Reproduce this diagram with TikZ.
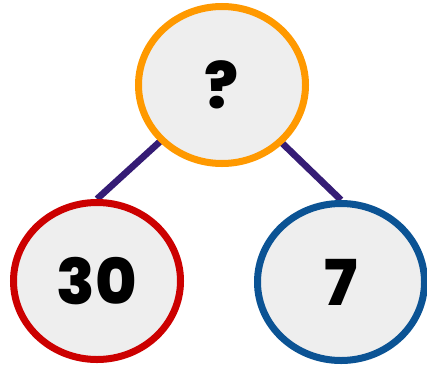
\documentclass[tikz,border=0pt]{standalone}
\usepackage{fontspec}
\setmainfont{Poppins}[BoldFont={Poppins ExtraBold}]
\usetikzlibrary{shapes.geometric,backgrounds}

\definecolor{qorange}{HTML}{FF9900}
\definecolor{pred}{HTML}{CC0000}
\definecolor{pblue}{HTML}{0B5394}
\definecolor{linkpurple}{HTML}{351C75}
\definecolor{bubblefill}{HTML}{EEEEEE}

\tikzset{
  bubble/.style={ellipse,draw,fill=bubblefill,line width=0.21cm,
    minimum width=5.01cm,minimum height=4.71cm,inner sep=0pt,
    font=\fontsize{54}{58}\selectfont\bfseries},
  link/.style={draw=linkpurple,line width=0.2cm}
}

\begin{document}
\begin{tikzpicture}[x=0.03cm,y=-0.03cm]
\useasboundingbox (0,0) rectangle (427,364);

\node[bubble,draw=qorange] (whole) at (222,85) {?};
\node[bubble,draw=pred] (part1) at (97,281) {30};
\node[bubble,draw=pblue] (part2) at (341,282) {7};

\begin{scope}[on background layer]
\draw[link] (whole.center) -- (part1.north);
\draw[link] (whole.center) -- (part2.north);
\end{scope}
\end{tikzpicture}
\end{document}
